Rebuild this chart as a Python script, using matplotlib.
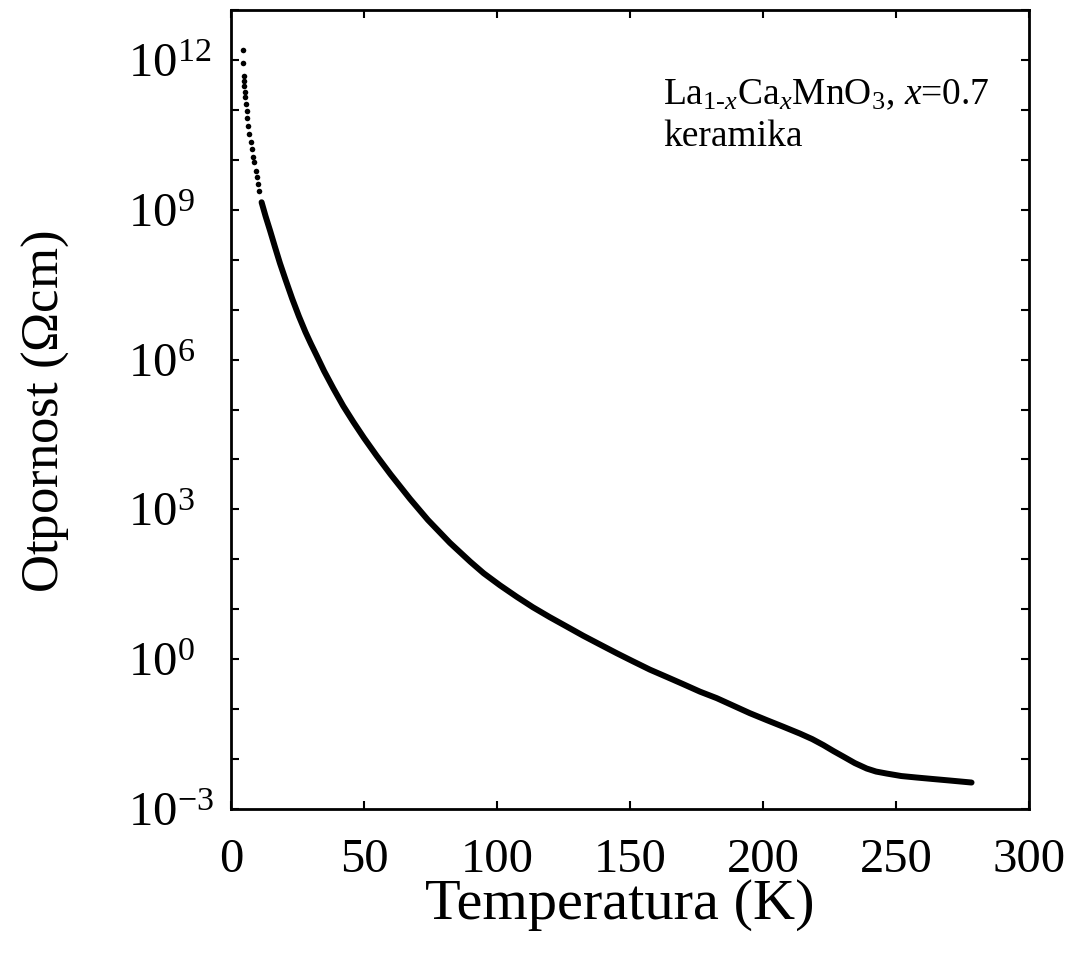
import numpy as np
import matplotlib
matplotlib.use("Agg")
import matplotlib.pyplot as plt
from matplotlib.ticker import FixedLocator, NullFormatter

plt.rcParams['font.family'] = 'Liberation Serif'
plt.rcParams['mathtext.fontset'] = 'custom'
plt.rcParams['mathtext.rm'] = 'Liberation Serif'
plt.rcParams['mathtext.it'] = 'Liberation Serif:italic'
plt.rcParams['mathtext.bf'] = 'Liberation Serif:bold'

# sparse low-temperature points (T in K, log10 of resistivity in Ohm cm)
t_dots = [4.4, 4.6, 4.9, 4.9, 5.0, 5.3, 5.4, 5.6, 5.9, 6.1, 6.5, 6.9, 7.4,
          7.9, 8.4, 8.8, 9.3, 9.7, 10.2, 10.5]
logr_dots = [12.19, 11.93, 11.68, 11.58, 11.48, 11.35, 11.25, 11.11, 10.98,
             10.83, 10.68, 10.51, 10.35, 10.21, 10.06, 9.95, 9.78, 9.65,
             9.51, 9.38]

# dense part of the measurement
t_line = [11.5, 13.0, 14.7, 16.5, 18.4, 20.5, 23.0, 25.5, 28.0, 30.0, 32.2,
          35.0, 38.5, 42.2, 46.0, 50.0, 54.8, 60.0, 67.3, 74.0, 82.3, 90.0,
          95.0, 101.1, 107.4, 113.5, 119.9, 126.0, 132.4, 138.5, 145.0,
          151.0, 157.5, 164.0, 170.0, 176.3, 182.6, 188.8, 195.0, 201.4,
          207.5, 213.9, 218.5, 222.7, 226.5, 230.2, 234.5, 239.0, 242.5,
          246.5, 252.0, 257.8, 264.0, 270.3, 278.4]
logr_line = [9.15, 8.87, 8.58, 8.26, 7.93, 7.60, 7.22, 6.87, 6.55, 6.32, 6.08,
             5.77, 5.42, 5.07, 4.75, 4.43, 4.07, 3.70, 3.21, 2.79, 2.33, 1.95,
             1.72, 1.48, 1.25, 1.04, 0.84, 0.66, 0.47, 0.30, 0.12,
             -0.04, -0.21, -0.36, -0.50, -0.65, -0.78, -0.93, -1.08, -1.22,
             -1.35, -1.49, -1.60, -1.72, -1.84, -1.95, -2.08, -2.19, -2.25,
             -2.29, -2.34, -2.37, -2.40, -2.43, -2.47]

rho_dots = 10.0 ** np.array(logr_dots)
rho_line = 10.0 ** np.array(logr_line)

fig = plt.figure(figsize=(10.70, 9.63), dpi=100)
ax = fig.add_axes([231/1070, 1-809/963, 798/1070, 799/963])

ax.plot(t_line, rho_line, '-', color='black', lw=4.3, solid_capstyle='round',
        solid_joinstyle='round')
ax.plot(t_dots, rho_dots, 'o', color='black', ms=4.0, mew=0)

ax.set_yscale('log')
ax.set_xlim(0, 300)
ax.set_ylim(1e-3, 1e13)

ax.xaxis.set_major_locator(FixedLocator([0, 50, 100, 150, 200, 250, 300]))
majors = [1e-3, 1e0, 1e3, 1e6, 1e9, 1e12]
ax.yaxis.set_major_locator(FixedLocator(majors))
ax.set_yticklabels([r'$10^{-3}$', r'$10^{0}$', r'$10^{3}$', r'$10^{6}$',
                    r'$10^{9}$', r'$10^{12}$'])
minors = [10.0 ** k for k in range(-3, 14) if 10.0 ** k not in majors]
ax.yaxis.set_minor_locator(FixedLocator(minors))
ax.yaxis.set_minor_formatter(NullFormatter())

ax.tick_params(which='both', direction='in', top=True, right=True,
               length=6, width=1.5, labelsize=35)
ax.tick_params(axis='x', pad=21)
ax.tick_params(axis='y', pad=74)
for lab in ax.get_yticklabels():
    lab.set_horizontalalignment('left')
for s in ax.spines.values():
    s.set_linewidth(2.0)

fig.text(620/1070, 1-905/963, 'Temperatura (K)', fontsize=42,
         ha='center', va='center')
fig.text(45/1070, 1-412/963, r'Otpornost ($\Omega$cm)', fontsize=38,
         ha='center', va='center', rotation=90)

ax.text(663/1070, 1-104/963,
        r'La$_{1\text{-}x}$Ca$_x$MnO$_3$, $x$=0.7', transform=fig.transFigure,
        fontsize=27, ha='left', va='baseline')
ax.text(663/1070, 1-146/963, 'keramika', transform=fig.transFigure,
        fontsize=27, ha='left', va='baseline')

fig.savefig('out.png', dpi=100)
